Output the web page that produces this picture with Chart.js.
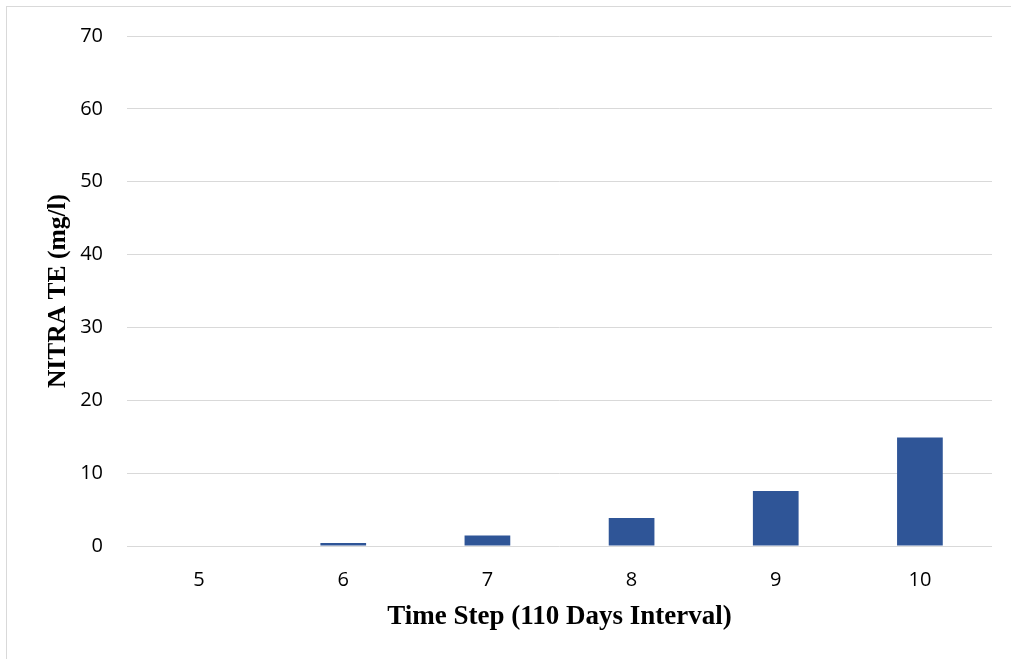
<!DOCTYPE html>
<html>
<head>
<meta charset="utf-8">
<script src="https://cdn.jsdelivr.net/npm/chart.js@4/dist/chart.umd.min.js"></script>
<style>
html,body{margin:0;padding:0;background:#fff;}
#wrap{position:relative;width:1011px;height:659px;}
</style>
</head>
<body>
<div id="wrap"><canvas id="c" width="1011" height="659"></canvas></div>
<script>
const categories = ['5','6','7','8','9','10'];
const nitrate = [0, 0.4, 1.45, 3.85, 7.55, 14.9];
const yTicks = [0,10,20,30,40,50,60,70];
const xTitle = 'Time Step (110 Days Interval)';
const yTitle = 'NITRA TE (mg/l)';

const frame = {
  id:'frame',
  beforeDraw(chart){
    const ctx = chart.ctx;
    ctx.save();
    ctx.fillStyle='#fff';
    ctx.fillRect(0,0,chart.width,chart.height);
    ctx.strokeStyle='#d9d9d9';
    ctx.lineWidth=1;
    ctx.strokeRect(6.5,6.5,1100,1000);
    ctx.restore();
  }
};

new Chart(document.getElementById('c'), {
  type:'bar',
  data:{labels:categories,datasets:[{data:nitrate,backgroundColor:'#2F5597',borderWidth:0,barPercentage:0.317,categoryPercentage:1}]},
  options:{
    responsive:false,animation:false,
    layout:{padding:{left:0,right:19,top:36,bottom:26}},
    plugins:{legend:{display:false},tooltip:{enabled:false}},
    scales:{
      x:{
        grid:{display:false,drawTicks:false},
        border:{display:false},
        ticks:{color:'#000',font:{family:'Open Sans',size:20},padding:22},
        title:{display:true,text:xTitle,color:'#000',font:{family:'Liberation Serif',size:27,weight:'bold'},padding:{top:11,bottom:0}},
        afterFit(s){s.height=87;}
      },
      y:{
        min:0,max:70,
        afterBuildTicks(s){s.ticks=yTicks.map(v=>({value:v}));},
        grid:{color:'#d9d9d9',lineWidth:1,drawTicks:false},
        border:{display:false},
        ticks:{color:'#000',font:{family:'Open Sans',size:20},padding:24},
        title:{display:true,text:yTitle,color:'#000',font:{family:'Liberation Serif',size:25.5,weight:'bold'},padding:{top:43,bottom:0}},
        afterFit(s){s.width=127;}
      }
    }
  },
  plugins:[frame]
});
</script>
</body>
</html>
